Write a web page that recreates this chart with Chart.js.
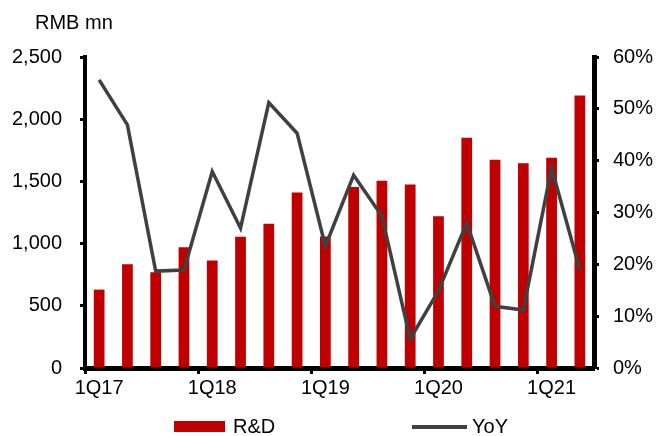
<!DOCTYPE html>
<html><head><meta charset="utf-8">
<script src="https://cdn.jsdelivr.net/npm/chart.js@4"></script>
<style>html,body{margin:0;padding:0;background:#fff}#wrap{width:657px;height:436px;position:relative}</style>
</head><body><div id="wrap"><canvas id="c" width="657" height="436"></canvas></div>
<script>
const categories = ['1Q17','2Q17','3Q17','4Q17','1Q18','2Q18','3Q18','4Q18','1Q19','2Q19','3Q19','4Q19','1Q20','2Q20','3Q20','4Q20','1Q21','2Q21'];
const rdValues = [630, 835, 770, 970, 865, 1055, 1160, 1410, 1058, 1455, 1505, 1475, 1220, 1850, 1675, 1645, 1690, 2190];
const yoyValues = [55.6, 46.9, 18.7, 18.9, 37.9, 27.0, 51.2, 45.3, 23.5, 37.2, 29.3, 5.6, 14.9, 28.0, 11.9, 11.2, 38.6, 18.9];
const xTickLabels = ['1Q17','1Q18','1Q19','1Q20','1Q21'];
const leftTicks = [0, 500, 1000, 1500, 2000, 2500];
const rightTicks = [0, 10, 20, 30, 40, 50, 60];
const seriesNames = ['R&D', 'YoY'];
const unitLabel = 'RMB mn';

const FONT = '"Liberation Sans", Arial, sans-serif';
const FS = 20;

const extras = {
  id: 'extras',
  afterDraw(chart) {
    const ctx = chart.ctx;
    const ds = chart.data.datasets;
    ctx.save();
    ctx.font = FS + 'px ' + FONT;
    ctx.fillStyle = '#000';
    ctx.textAlign = 'left';
    ctx.textBaseline = 'alphabetic';
    ctx.fillText(unitLabel, 35, 29);
    ctx.fillStyle = ds[0].backgroundColor;
    ctx.fillRect(174, 421, 51, 11);
    ctx.fillStyle = '#000';
    ctx.textBaseline = 'middle';
    ctx.fillText(ds[0].label, 233, 427);
    ctx.strokeStyle = ds[1].borderColor;
    ctx.lineWidth = 4;
    ctx.beginPath(); ctx.moveTo(412, 427); ctx.lineTo(467, 427); ctx.stroke();
    ctx.fillText(ds[1].label, 472, 427);
    ctx.restore();
  }
};

new Chart(document.getElementById('c'), {
  type: 'bar',
  data: {
    labels: categories,
    datasets: [
      { type: 'bar', label: seriesNames[0], data: rdValues, backgroundColor: '#C00000', yAxisID: 'y',
        categoryPercentage: 1, barPercentage: 0.38, order: 1 },
      { type: 'line', label: seriesNames[1], data: yoyValues, borderColor: '#404040', backgroundColor: '#404040',
        borderWidth: 3.5, pointRadius: 0, tension: 0, yAxisID: 'y1', order: 0, clip: false }
    ]
  },
  options: {
    responsive: false, animation: false, devicePixelRatio: 1,
    layout: { padding: { top: 57, bottom: 38, left: 0, right: 0 } },
    plugins: { legend: { display: false }, tooltip: { enabled: false }, title: { display: false } },
    scales: {
      x: {
        offset: true,
        grid: { display: true, offset: true, drawOnChartArea: false, drawTicks: true, tickLength: 6, tickWidth: 3,
          color: 'rgba(0,0,0,0)',
          tickColor: (c) => (c.index % 4 === 0 ? '#000' : 'rgba(0,0,0,0)') },
        border: { display: true, color: '#000', width: 5 },
        ticks: { autoSkip: false, maxRotation: 0, minRotation: 0, padding: 2, color: '#000',
          font: { family: FONT, size: FS },
          callback: function (v, i) { const l = categories[i]; return xTickLabels.includes(l) ? l : ''; } },
        afterFit: (s) => { s.height = 30; }
      },
      y: {
        position: 'left', min: 0, max: 2500,
        afterBuildTicks: (s) => { s.ticks = leftTicks.map(v => ({ value: v })); },
        grid: { display: true, drawOnChartArea: false, drawTicks: true, tickLength: 5, tickWidth: 3, tickColor: '#000' },
        border: { display: true, color: '#000', width: 4 },
        ticks: { padding: 18, color: '#000', font: { family: FONT, size: FS },
          callback: (v) => Number(v).toLocaleString('en-US') },
        afterFit: (s) => { s.width = 85; }
      },
      y1: {
        position: 'right', min: 0, max: 60,
        afterBuildTicks: (s) => { s.ticks = rightTicks.map(v => ({ value: v })); },
        grid: { display: true, drawOnChartArea: false, drawTicks: true, tickLength: 5, tickWidth: 3, tickColor: '#000' },
        border: { display: true, color: '#000', width: 5 },
        ticks: { padding: 14, color: '#000', font: { family: FONT, size: FS },
          callback: (v) => v + '%' },
        afterFit: (s) => { s.width = 63; }
      }
    }
  },
  plugins: [extras]
});
</script>
</body></html>
